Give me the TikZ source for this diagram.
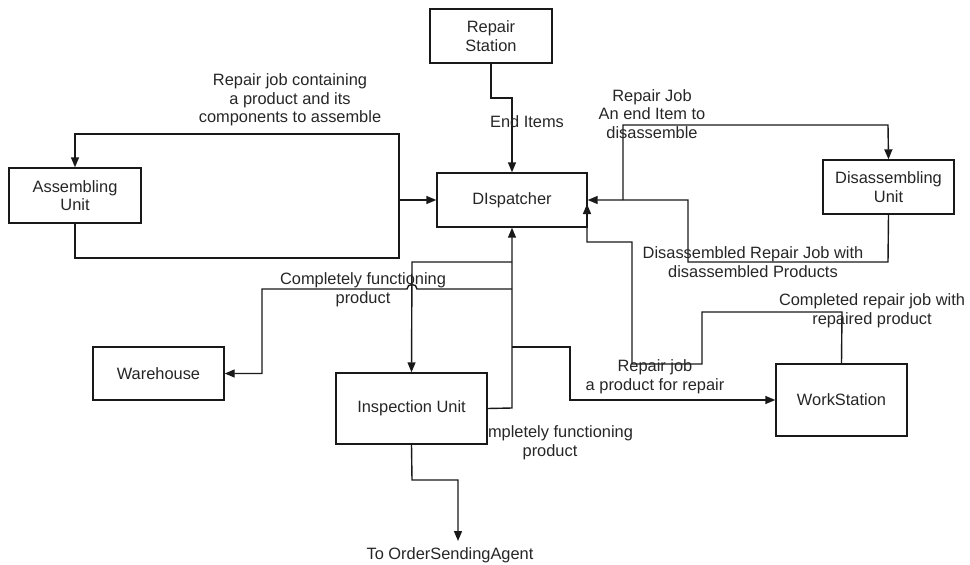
\documentclass[tikz,border=0pt]{standalone}
\usepackage{fontspec}
\setmainfont{Liberation Sans}
\usetikzlibrary{arrows.meta}
\begin{document}
\begin{tikzpicture}[x=1pt,y=-1pt,
  every node/.style={font=\fontsize{16.4}{18.6}\selectfont, text=black!85},
  unit/.style={draw=black!90, line width=1.4pt, fill=white, align=center, inner sep=0pt},
  flow/.style={draw=black!90, line width=1.4pt},
  arr/.style={flow, -{Triangle[length=10pt,width=8pt]}},
  lbl/.style={align=center, inner sep=0pt}]
\useasboundingbox (0,0) rectangle (970,565);

% labels that sit behind the boxes
\node[lbl] (lcf2) at (550,443) {Completely functioning\\product};

% units
\node[unit, minimum width=122pt, minimum height=54pt] (rs)   at (491,36)    {Repair\\Station};
\node[unit, minimum width=150pt, minimum height=54pt] (disp) at (512,200)   {DIspatcher};
\node[unit, minimum width=132pt, minimum height=55pt] (asm)  at (75,195.5)  {Assembling\\Unit};
\node[unit, minimum width=131pt, minimum height=54pt] (dis)  at (888.5,187) {Disassembling\\Unit};
\node[unit, minimum width=131pt, minimum height=53pt] (wh)   at (158.5,373.5) {Warehouse};
\node[unit, minimum width=151pt, minimum height=71pt] (insp) at (411.5,408.5) {Inspection Unit};
\node[unit, minimum width=131pt, minimum height=72pt] (ws)   at (841.5,400) {WorkStation};

% junction points
\coordinate (ajoin) at (399,200);
\coordinate (djoin) at (623,200);
\coordinate (t1) at (512,262);
\coordinate (t2) at (512,289);
\coordinate (t3) at (512,347);
\coordinate (osaend) at (458,541);

% Repair Station -> Dispatcher
\draw[arr] (rs.south) -- (491,98) -| (disp.north);
\node[lbl] (lend) at (527,122) {End Items};

% Assembling Unit <-> Dispatcher
\draw[arr] (asm.south) -- (75,258) -| (ajoin) -- (disp.west);
\draw[arr] (ajoin) |- (75,134) -- (asm.north);
\node[lbl] (lasm) at (290,100) {Repair job containing\\a product and its\\components to assemble};

% Disassembling Unit <-> Dispatcher
\draw[arr] (dis.south) -- (888,262) -| (688,200) -- (disp.east);
\draw[arr] (djoin) |- (888,125) -- (dis.north);
\node[lbl] (ldis1) at (652,114) {Repair Job\\An end Item to\\disassemble};
\node[lbl] (ldis2) at (753,262) {Disassembled Repair Job with\\disassembled Products};

% WorkStation -> Dispatcher
\draw[arr] (ws.north) -- (842,312) -- (702,312) -- (702,364) -- (632,364)
  -- (632,242) -- (587,242) -- (587,204);
\node[lbl] (lws1) at (872,311) {Completed repair job with\\repaired product};

% Inspection Unit -> Dispatcher trunk and its branches
\draw[arr] (insp.east) -- (512,408) -- (disp.south);
\draw[arr] (t1) -- (412,262) -- (insp.north);
\draw[arr] (t2) -- (417,289) .. controls (417,283) and (407,283) .. (407,289)
  -- (262,289) -- (262,373.5) -- (wh.east);
\draw[arr] (t3) -- (570,347) |- (ws.west);
\node[lbl] (lcf1) at (363,290) {Completely functioning\\product};
\node[lbl] (lrep) at (655,377) {Repair job\\a product for repair};

% Inspection Unit -> order sending
\draw[arr] (insp.south) -- (412,480) -| (osaend);
\node[lbl] (osa) at (450,555) {To OrderSendingAgent};
\end{tikzpicture}
\end{document}
